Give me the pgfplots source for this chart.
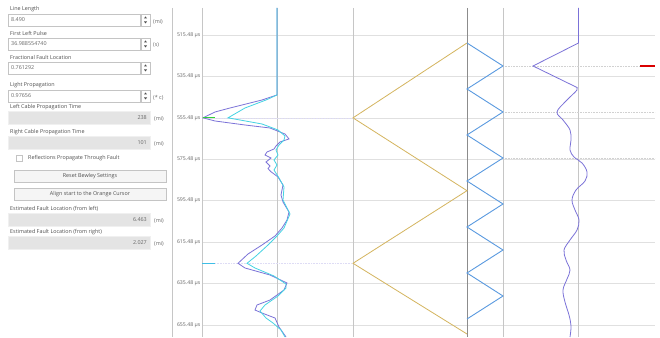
\documentclass[border=0pt]{standalone}
\usepackage{fontspec}
\setmainfont{Open Sans}
\usepackage{pgfplots}
\pgfplotsset{compat=1.18}
\definecolor{trpurple}{HTML}{7B72D8}
\definecolor{trcyan}{HTML}{45D3E3}
\definecolor{zzblue}{HTML}{5A9AE0}
\definecolor{zzgold}{HTML}{D4B55E}
\definecolor{vgrid}{HTML}{C6C6C6}
\definecolor{hgrid}{HTML}{E0E0E0}
\definecolor{txt}{HTML}{505050}
\definecolor{boxline}{HTML}{C4C4C4}
\definecolor{boxgray}{HTML}{E4E4E4}
\definecolor{btnfill}{HTML}{F5F5F5}
\definecolor{curgreen}{HTML}{2FD03A}
\newcommand{\fs}{\fontsize{5.4}{6.2}\selectfont}
\newcommand{\fst}{\fontsize{5.2}{6}\selectfont}
\tikzset{lbl/.style={anchor=west, inner sep=0pt, font=\fs, text=txt}}
% input box with spinner: #1 top y, #2 value, #3 unit
\newcommand{\inbox}[3]{%
  \draw[boxline, fill=white, line width=0.5pt] (8,#1) rectangle (140,#1+12);
  \draw[boxline, fill=white, line width=0.5pt] (141,#1) rectangle (150,#1+12);
  \fill[black!70] (144,#1+4.5) -- (147,#1+4.5) -- (145.5,#1+2.5) -- cycle;
  \fill[black!70] (144,#1+7.5) -- (147,#1+7.5) -- (145.5,#1+9.5) -- cycle;
  \node[lbl, text=black!60] at (11,#1+6) {#2};
  \node[lbl, text=black!60] at (153,#1+7.5) {#3};
}
% read-only gray box: #1 top y, #2 value, #3 unit
\newcommand{\graybox}[3]{%
  \draw[boxgray!80!black!20, fill=boxgray, line width=0.5pt] (8,#1) rectangle (150,#1+13);
  \node[lbl, anchor=east, text=black!60] at (147,#1+6.5) {#2};
  \node[lbl, text=black!60] at (154,#1+8) {#3};
}
\begin{document}
\begin{tikzpicture}
\useasboundingbox (0,0) rectangle (660pt,337pt);
\fill[white] (0,0) rectangle (660pt,337pt);
\begin{scope}[shift={(0pt,337pt)},x=1pt,y=-1pt]
  \node[lbl] at (10,9) {Line Length};
  \inbox{14}{8.490}{(mi)}
  \node[lbl] at (10,33) {First Left Pulse};
  \inbox{38}{36.988554740}{(s)}
  \node[lbl] at (10,57) {Fractional Fault Location};
  \inbox{62}{0.761292}{}
  \node[lbl] at (10,85) {Light Propagation};
  \inbox{90}{0.97656}{(* c)}
  \node[lbl] at (10,107) {Left Cable Propagation Time};
  \graybox{111}{238}{(mi)}
  \node[lbl] at (10,132) {Right Cable Propagation Time};
  \graybox{136}{101}{(mi)}
  \draw[boxline, fill=white, line width=0.5pt] (16,155) rectangle (22,161);
  \node[lbl] at (28,158.5) {Reflections Propagate Through Fault};
  \draw[boxline, fill=btnfill, line width=0.5pt] (14,170) rectangle (166,182);
  \node[lbl, anchor=center] at (90,176) {Reset Bewley Settings};
  \draw[boxline, fill=btnfill, line width=0.5pt] (14,188) rectangle (166,200);
  \node[lbl, anchor=center] at (90,194) {Align start to the Orange Cursor};
  \node[lbl] at (10,209) {Estimated Fault Location (from left)};
  \graybox{213}{6.463}{(mi)}
  \node[lbl] at (10,232) {Estimated Fault Location (from right)};
  \graybox{236}{2.027}{(mi)}
  \draw[vgrid, line width=1pt] (172.5,8) -- (172.5,337);
\end{scope}
\begin{axis}[
  at={(202pt,0pt)}, anchor=south west,
  width=453pt, height=329pt, scale only axis,
  xmin=202, xmax=655, ymin=502.45, ymax=661.27, y dir=reverse,
  axis line style={draw=none}, tick style={draw=none},
  xtick=\empty,
  ytick={515.48,535.48,555.48,575.48,595.48,615.48,635.48,655.48},
  yticklabels={515.48 μs,535.48 μs,555.48 μs,575.48 μs,595.48 μs,615.48 μs,635.48 μs,655.48 μs},
  yticklabel style={font=\fst, text=black!60, inner sep=1.5pt},
  ymajorgrids, major grid style={hgrid, line width=0.7pt},
  clip=true,
]
% vertical guide lines
\addplot[vgrid, line width=0.9pt] coordinates {(202.5,502.45) (202.5,661.27)};
\addplot[vgrid, line width=0.9pt] coordinates {(277,502.45) (277,661.27)};
\addplot[vgrid, line width=0.9pt] coordinates {(353,502.45) (353,661.27)};
\addplot[black!45, line width=0.9pt] coordinates {(467.5,502.45) (467.5,661.27)};
\addplot[vgrid, line width=0.9pt] coordinates {(503,502.45) (503,661.27)};
\addplot[vgrid, line width=0.9pt] coordinates {(578.5,502.45) (578.5,661.27)};
% cursor lines
\addplot[densely dotted, color=trpurple!25, line width=0.6pt] coordinates {(215,555.48) (353,555.48)};
\addplot[densely dotted, color=trpurple!25, line width=0.6pt] coordinates {(215,625.69) (353,625.69)};
\addplot[densely dotted, color=black!18, line width=0.6pt] coordinates {(503,530.44) (640,530.44)};
\addplot[densely dotted, color=black!18, line width=0.6pt] coordinates {(503,552.65) (655,552.65)};
\addplot[densely dotted, color=black!18, line width=0.6pt] coordinates {(503,574.86) (655,574.86)};
\addplot[red!85!black, line width=1.2pt] coordinates {(640,530.44) (655,530.44)};
% Bewley lattice
\addplot[zzgold, line width=0.8pt] coordinates {(467,519.34) (353,555.48) (467,590.64) (353,625.69) (467,659.82)};
\addplot[zzblue, line width=0.9pt] coordinates {
 (467,519.34) (503,530.44) (467,541.55) (503,552.65) (467,563.75) (503,574.86) (467,585.96)
 (503,597.06) (467,608.17) (503,619.27) (467,630.37) (503,641.48) (467,652.58)};
% left panel traces
\addplot[trpurple, line width=0.8pt] coordinates {
 (277,502.45) (277,544.44) (262,546.86) (230,550.72) (215,552.65) (203,555.48) (215,556.99)
 (245,558.93) (270,560.37) (285,563.27) (289,565.68) (280,567.13) (276,569.06) (274,570.51)
 (267,571.96) (265,573.41) (271,574.86) (266,576.79) (270,578.72) (268,580.0) (271,581.5)
 (278,584.03) (283,587.89) (281,592.72) (283,596.10) (289,600.93) (287,604.79) (282,608.65)
 (275,612.51) (262,616.86) (248,621.20) (238,625.69) (245,627.96) (270,631.34) (287,635.20)
 (284,638.58) (270,643.41) (257,645.82) (255,648.24) (262,649.69) (275,652.10) (279,656.45)
 (286,661.27)};
\addplot[trcyan, line width=0.8pt] coordinates {
 (277,502.45) (277,544.44) (266,546.86) (245,550.72) (228,555.48) (240,556.51) (262,558.44)
 (278,561.34) (285,564.23) (284,566.16) (279,568.58) (276,570.99) (278,573.41) (274,575.82)
 (277,578.23) (274,580.65) (279,584.51) (284,588.86) (283,595.13) (290,601.89) (284,608.65)
 (277,612.51) (268,616.86) (256,622.17) (247,625.69) (255,627.96) (274,631.82) (286,635.68)
 (286,637.61) (278,641.48) (265,645.82) (260,648.72) (266,652.10) (273,654.51) (281,657.89)
 (285,661.27)};
\addplot[curgreen, line width=1pt] coordinates {(203,555.48) (215,555.48)};
\addplot[trcyan!90!blue, line width=1pt] coordinates {(202,625.69) (215,625.69)};
% right panel trace
\addplot[trpurple, line width=0.8pt] coordinates {(578.5,502.45) (578.5,519.34) (533,530.44) (576,540.58)};
\addplot[trpurple, line width=0.8pt, smooth, tension=0.6] coordinates {
 (576,540.58) (577,542.03) (566,547.34) (557,552.65) (563,556.51) (570,561.34) (571,566.17)
 (570,570.99) (574,574.37) (582,577.27) (587,581.62) (585,585.96) (576,590.31) (572,595.13)
 (575,599.96) (579,604.79) (577,609.61) (570,614.44) (564,619.27) (566,624.10) (570,628.93)
 (567,633.27) (563,638.58) (565,644.37) (569,650.65) (571,655.96) (570,661.27)};
\end{axis}
\end{tikzpicture}
\end{document}
